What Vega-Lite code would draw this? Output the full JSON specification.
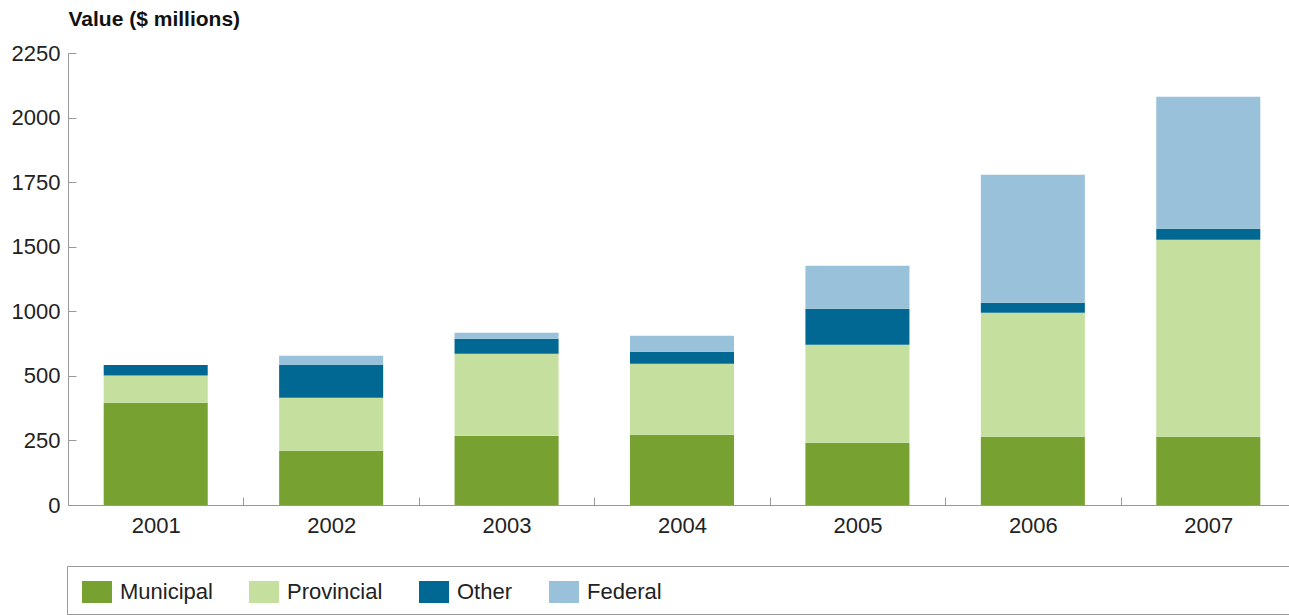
{
  "$schema": "https://vega.github.io/schema/vega-lite/v6.json",
  "width": 1221,
  "height": 452,
  "autosize": {"type": "none"},
  "padding": {"left": 68, "top": 53, "right": 0, "bottom": 110},
  "background": "white",
  "config": {"view": {"stroke": null}, "font": "Liberation Sans"},
  "data": {
    "values": [
      {"year": "2001", "source": "Municipal", "value": 396},
      {"year": "2001", "source": "Provincial", "value": 107},
      {"year": "2001", "source": "Other", "value": 81},
      {"year": "2001", "source": "Federal", "value": 0},
      {"year": "2002", "source": "Municipal", "value": 210},
      {"year": "2002", "source": "Provincial", "value": 205},
      {"year": "2002", "source": "Other", "value": 169},
      {"year": "2002", "source": "Federal", "value": 72},
      {"year": "2003", "source": "Municipal", "value": 268},
      {"year": "2003", "source": "Provincial", "value": 404},
      {"year": "2003", "source": "Other", "value": 116},
      {"year": "2003", "source": "Federal", "value": 46},
      {"year": "2004", "source": "Municipal", "value": 272},
      {"year": "2004", "source": "Provincial", "value": 322},
      {"year": "2004", "source": "Other", "value": 93},
      {"year": "2004", "source": "Federal", "value": 124},
      {"year": "2005", "source": "Municipal", "value": 241},
      {"year": "2005", "source": "Provincial", "value": 500},
      {"year": "2005", "source": "Other", "value": 279},
      {"year": "2005", "source": "Federal", "value": 333},
      {"year": "2006", "source": "Municipal", "value": 264},
      {"year": "2006", "source": "Provincial", "value": 725},
      {"year": "2006", "source": "Other", "value": 77},
      {"year": "2006", "source": "Federal", "value": 713},
      {"year": "2007", "source": "Municipal", "value": 264},
      {"year": "2007", "source": "Provincial", "value": 1263},
      {"year": "2007", "source": "Other", "value": 43},
      {"year": "2007", "source": "Federal", "value": 511}
    ]
  },
  "transform": [
    {"calculate": "indexof(['Municipal','Provincial','Other','Federal'], datum.source)", "as": "rank"}
  ],
  "mark": {"type": "bar"},
  "encoding": {
    "x": {
      "field": "year",
      "type": "ordinal",
      "scale": {"range": [0, 1228], "paddingInner": 0.407, "paddingOuter": 0.2035},
      "axis": {
        "title": null,
        "labelAngle": 0,
        "grid": false,
        "domainColor": "#999999",
        "tickColor": "#999999",
        "tickSize": -8,
        "bandPosition": 0,
        "tickOffset": -35.7,
        "labelOffset": 35.7,
        "labelPadding": 18,
        "labelFontSize": 22,
        "labelColor": "#222222"
      }
    },
    "y": {
      "field": "value",
      "type": "quantitative",
      "stack": "zero",
      "scale": {
        "domain": [0, 250, 500, 1000, 1500, 1750, 2000, 2250],
        "range": [452, 387.43, 322.86, 258.29, 193.71, 129.14, 64.57, 0],
        "nice": false,
        "zero": false
      },
      "axis": {
        "title": "Value ($ millions)",
        "values": [0, 250, 500, 1000, 1500, 1750, 2000, 2250],
        "format": "d",
        "grid": false,
        "domainColor": "#999999",
        "tickColor": "#999999",
        "tickSize": -8,
        "labelPadding": 16,
        "labelFontSize": 22,
        "labelColor": "#222222",
        "labelOverlap": false,
        "titleAngle": 0,
        "titleAlign": "left",
        "titleBaseline": "alphabetic",
        "titleX": 0,
        "titleY": -28,
        "titleFontSize": 21,
        "titleFontWeight": "bold",
        "titleColor": "#111111"
      }
    },
    "color": {
      "field": "source",
      "type": "nominal",
      "scale": {
        "domain": ["Municipal", "Provincial", "Other", "Federal"],
        "range": ["#77a232", "#c5e09e", "#006892", "#99c1d9"]
      },
      "legend": {
        "title": null,
        "orient": "none",
        "legendX": -1,
        "legendY": 513,
        "direction": "horizontal",
        "columns": 4,
        "padding": 11,
        "strokeColor": "#999999",
        "fillColor": "white",
        "symbolType": "M-1,-0.733H1V0.733H-1Z",
        "symbolSize": 900,
        "symbolStrokeWidth": 0,
        "symbolOffset": 4,
        "labelOffset": 8,
        "labelFontSize": 22,
        "labelColor": "#222222",
        "columnPadding": 32,
        "labelLimit": 3000,
        "labelExpr": "datum.label == 'Federal' ? 'Federal' + '\u2800\u2800\u2800\u2800\u2800\u2800\u2800\u2800\u2800\u2800\u2800\u2800\u2800\u2800\u2800\u2800\u2800\u2800\u2800\u2800\u2800\u2800\u2800\u2800\u2800\u2800\u2800\u2800\u2800\u2800\u2800\u2800\u2800\u2800\u2800\u2800\u2800\u2800\u2800' : datum.label"
      }
    },
    "order": {"field": "rank", "type": "quantitative"}
  }
}
